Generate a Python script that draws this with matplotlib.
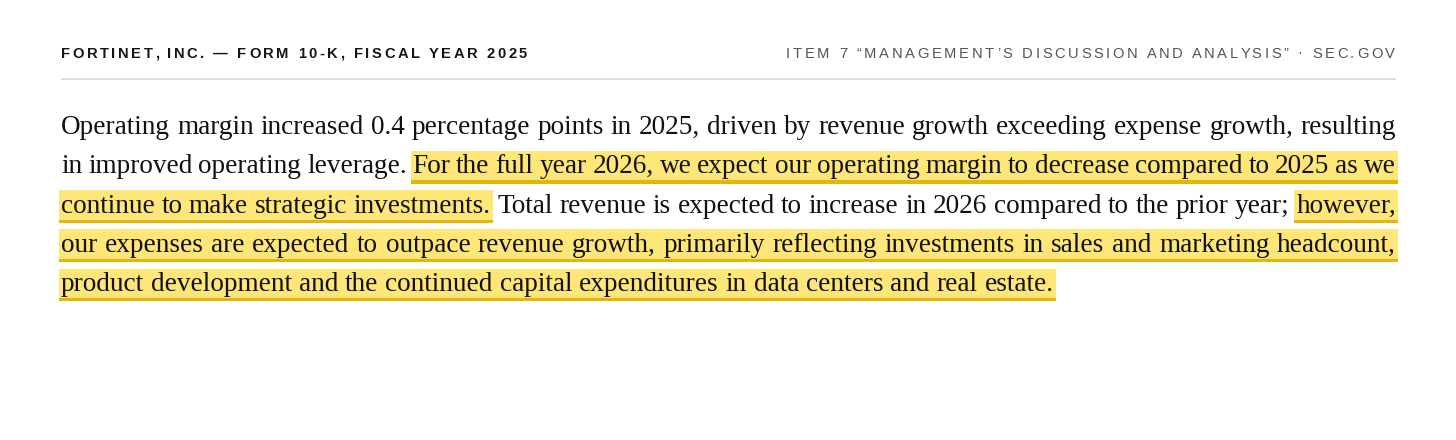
import matplotlib
matplotlib.use("Agg")
import matplotlib.pyplot as plt
from matplotlib.patches import Rectangle

# header texts
header_left = "FORTINET, INC. — FORM 10-K, FISCAL YEAR 2025"
header_right = "ITEM 7 “MANAGEMENT’S DISCUSSION AND ANALYSIS” · SEC.GOV"

# paragraph, broken into the lines of the reference
para_lines = [
    "Operating margin increased 0.4 percentage points in 2025, driven by revenue growth exceeding expense growth, resulting",
    "in improved operating leverage. For the full year 2026, we expect our operating margin to decrease compared to 2025 as we",
    "continue to make strategic investments. Total revenue is expected to increase in 2026 compared to the prior year; however,",
    "our expenses are expected to outpace revenue growth, primarily reflecting investments in sales and marketing headcount,",
    "product development and the continued capital expenditures in data centers and real estate.",
]
# highlighted sentences
highlights = [
    "For the full year 2026, we expect our operating margin to decrease compared to 2025 as we continue to make strategic investments.",
    "however, our expenses are expected to outpace revenue growth, primarily reflecting investments in sales and marketing headcount, product development and the continued capital expenditures in data centers and real estate.",
]

W, H = 1456, 440
LEFT, RIGHT = 61, 1396
baselines = [134, 173.3, 212.6, 251.9, 291.2]

fig = plt.figure(figsize=(W / 100, H / 100), dpi=100)
ax = fig.add_axes([0, 0, 1, 1])
ax.set_xlim(0, W)
ax.set_ylim(H, 0)
ax.axis('off')
renderer = fig.canvas.get_renderer()


def text_width(s, **kw):
    t = ax.text(0, 0, s, **kw)
    w = t.get_window_extent(renderer).width
    t.remove()
    return w


def spaced_text(x, y, s, target_w, right=False, **kw):
    # draw text char by char to imitate letter-spacing
    bar = text_width("|", **kw)
    offs = [text_width(s[:i] + "|", **kw) - bar for i in range(len(s))]
    natural = text_width(s, **kw)
    sp = (target_w - natural) / (len(s) - 1)
    x0 = x - target_w if right else x
    for i, c in enumerate(s):
        ax.text(x0 + offs[i] + i * sp, y, c, ha='left', va='baseline', **kw)


# header
hkw = dict(family=['Liberation Sans', 'DejaVu Sans'], fontsize=14.8 * 0.72)
spaced_text(LEFT, 57.5, header_left, 466, fontweight='bold', color='#151515', **hkw)
spaced_text(RIGHT - 1, 57.5, header_right, 609, right=True, color='#555555', **hkw)
ax.plot([LEFT, RIGHT], [79, 79], color='#dddddd', lw=1.4, solid_capstyle='butt')

# which words are highlighted (by character offset in the full paragraph)
full = " ".join(para_lines)
spans = []
for h in highlights:
    i = full.index(h)
    spans.append((i, i + len(h)))

words, flags = [], []
pos = 0
for line in para_lines:
    lw, lf = [], []
    for wd in line.split(" "):
        i = full.index(wd, pos)
        pos = i + len(wd)
        lw.append(wd)
        lf.append(any(a <= i < b for a, b in spans))
    words.append(lw)
    flags.append(lf)

# fit font size so that the last (unjustified) line is as wide as in the reference
serif = ['Liberation Serif', 'DejaVu Serif']
base = 16.0


def line_natural(ws, fs):
    kw = dict(family=serif, fontsize=fs)
    gap = text_width("n n", **kw) - 2 * text_width("n", **kw)
    return sum(text_width(w, **kw) for w in ws) + gap * (len(ws) - 1)


fs = base * 992 / line_natural(words[-1], base)
pkw = dict(family=serif, fontsize=fs, color='#111111')
gap_nat = text_width("n n", **pkw) - 2 * text_width("n", **pkw)

fill_c = '#ffe679'
under_c = '#e4b50c'

for li, (ws, fl) in enumerate(zip(words, flags)):
    b = baselines[li]
    widths = [text_width(w, **pkw) for w in ws]
    if li < len(para_lines) - 1:
        gap = (RIGHT - LEFT - sum(widths)) / (len(ws) - 1)
    else:
        gap = gap_nat
    xs = []
    x = LEFT
    for w in widths:
        xs.append(x)
        x += w + gap
    # highlight runs
    j = 0
    while j < len(ws):
        if fl[j]:
            k = j
            while k + 1 < len(ws) and fl[k + 1]:
                k += 1
            x0 = xs[j] - 2
            x1 = xs[k] + widths[k] + 2
            ax.add_patch(Rectangle((x0, b - 22.5), x1 - x0, 29.5, color=fill_c, lw=0, zorder=1))
            ax.add_patch(Rectangle((x0, b + 7), x1 - x0, 3.3, color=under_c, lw=0, zorder=2))
            j = k + 1
        else:
            j += 1
    for w, x in zip(ws, xs):
        ax.text(x, b, w, ha='left', va='baseline', zorder=3, **pkw)

fig.savefig("out.png", dpi=100, facecolor='white')
